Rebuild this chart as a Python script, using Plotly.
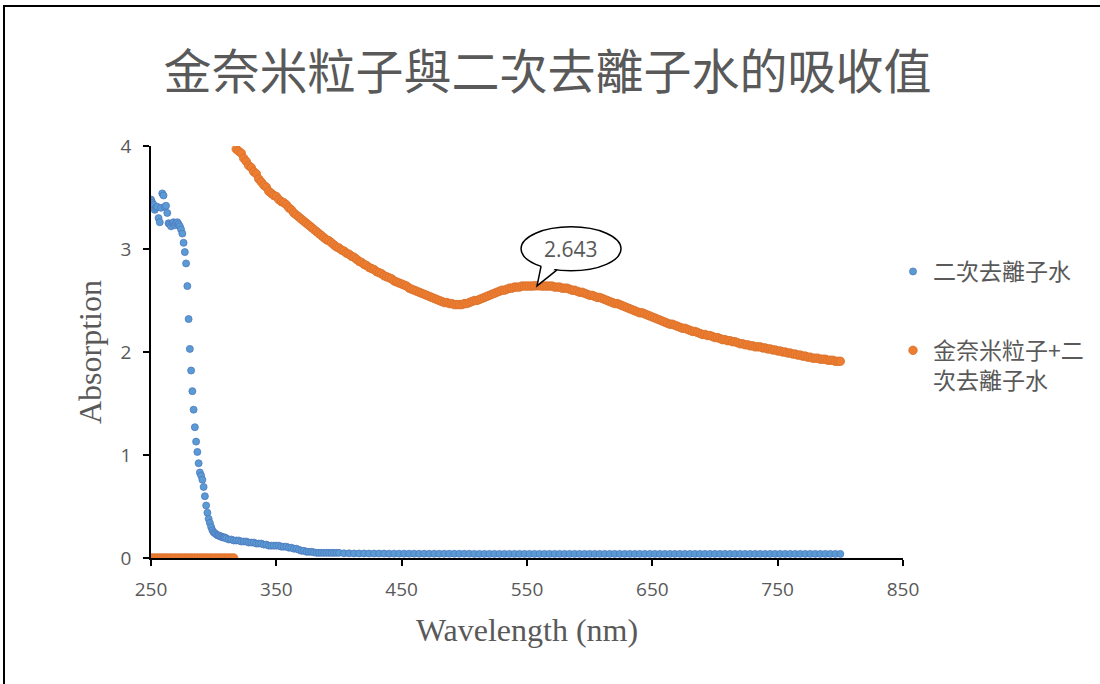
import plotly.graph_objects as go

# ---------------- data ----------------
title_text = "金奈米粒子與二次去離子水的吸收值"
series_names = ["二次去離子水", "金奈米粒子+二<br>次去離子水"]
x_title = "Wavelength (nm)"
y_title = "Absorption"
x_ticks = [250, 350, 450, 550, 650, 750, 850]
y_ticks = [0, 1, 2, 3, 4]

# 二次去離子水 (blue)
water_wl = list(range(250, 311, 1)) + list(range(312, 401, 2)) + list(range(404, 801, 4))
water_abs = [
    3.48, 3.45, 3.43, 3.38, 3.40, 3.41, 3.30, 3.26, 3.40, 3.54,
    3.52, 3.41, 3.42, 3.35, 3.25, 3.24, 3.22, 3.25, 3.26, 3.23,
    3.25, 3.26, 3.24, 3.22, 3.19, 3.15, 3.06, 2.97, 2.86,
    2.64, 2.32, 2.03, 1.82, 1.62, 1.44, 1.27, 1.13, 1.03, 0.92,
    0.83, 0.80, 0.76, 0.69, 0.60, 0.51, 0.44, 0.38, 0.34, 0.30,
    0.27, 0.25, 0.24, 0.23, 0.22, 0.22, 0.21, 0.21, 0.20, 0.20, 0.20, 0.19,
    # 312-400 step 2
    0.18, 0.18, 0.17, 0.17, 0.17, 0.16, 0.16, 0.16, 0.15, 0.15,
    0.15, 0.14, 0.14, 0.14, 0.13, 0.13, 0.12, 0.12, 0.12, 0.12,
    0.12, 0.11, 0.11, 0.11, 0.10, 0.10, 0.09, 0.09, 0.08, 0.07,
    0.07, 0.06, 0.06, 0.06, 0.055, 0.05, 0.05, 0.05, 0.05, 0.05,
    0.05, 0.05, 0.05, 0.05, 0.05,
    # 404-800 step 4
    0.045, 0.045, 0.044, 0.044, 0.044, 0.043, 0.043, 0.043, 0.043, 0.042,
    0.042, 0.042, 0.042, 0.042, 0.042, 0.041, 0.041, 0.041, 0.041, 0.041,
    0.041, 0.041, 0.041, 0.041, 0.041, 0.041, 0.040, 0.040, 0.040, 0.040,
    0.040, 0.040, 0.040, 0.040, 0.040, 0.040, 0.040, 0.040, 0.040, 0.040,
    0.040, 0.040, 0.040, 0.040, 0.040, 0.040, 0.040, 0.040, 0.040, 0.040,
    0.040, 0.040, 0.040, 0.040, 0.040, 0.040, 0.040, 0.040, 0.040, 0.040,
    0.040, 0.040, 0.040, 0.040, 0.040, 0.040, 0.040, 0.040, 0.040, 0.040,
    0.040, 0.040, 0.040, 0.040, 0.040, 0.040, 0.040, 0.040, 0.040, 0.040,
    0.040, 0.040, 0.040, 0.040, 0.040, 0.040, 0.040, 0.040, 0.040, 0.040,
    0.040, 0.040, 0.040, 0.040, 0.040, 0.040, 0.040, 0.040, 0.040, 0.040,
]

# 金奈米粒子+二次去離子水 (orange)
gold_wl = list(range(250, 801, 2))
gold_abs = [
    0, 0, 0, 0, 0, 0, 0, 0, 0, 0,
    0, 0, 0, 0, 0, 0, 0, 0, 0, 0,
    0, 0, 0, 0, 0, 0, 0, 0, 0, 0,
    0, 0, 0, 0,
    3.97, 3.95, 3.93, 3.88, 3.85, 3.81, 3.79, 3.75, 3.73, 3.68,
    3.65, 3.62, 3.60, 3.56, 3.54, 3.52, 3.51, 3.48, 3.46, 3.45,
    3.43, 3.40, 3.38, 3.35, 3.33, 3.31, 3.29, 3.27, 3.25, 3.23,
    3.21, 3.19, 3.17, 3.15, 3.13, 3.11, 3.09, 3.08, 3.06, 3.04,
    3.02, 3.01, 2.99, 2.98, 2.96, 2.95, 2.93, 2.92, 2.90, 2.88,
    2.87, 2.85, 2.84, 2.82, 2.81, 2.80, 2.78, 2.77, 2.76, 2.74,
    2.73, 2.72, 2.71, 2.69, 2.68, 2.67, 2.66, 2.65, 2.64, 2.62,
    2.61, 2.60, 2.59, 2.58, 2.57, 2.56, 2.55, 2.54, 2.53, 2.52,
    2.51, 2.50, 2.49, 2.48, 2.48, 2.47, 2.47, 2.46, 2.46, 2.46,
    2.46, 2.47, 2.47, 2.48, 2.49, 2.50, 2.50, 2.51, 2.52, 2.53,
    2.54, 2.55, 2.56, 2.57, 2.58, 2.59, 2.60, 2.60, 2.61, 2.62,
    2.62, 2.63, 2.63, 2.63, 2.64, 2.64, 2.64, 2.64, 2.64, 2.642,
    2.643, 2.643, 2.64, 2.64, 2.64, 2.64, 2.64, 2.63, 2.63, 2.63,
    2.62, 2.62, 2.62, 2.61, 2.60, 2.60, 2.59, 2.58, 2.58, 2.57,
    2.56, 2.55, 2.55, 2.54, 2.53, 2.53, 2.52, 2.51, 2.50, 2.49,
    2.48, 2.47, 2.47, 2.46, 2.45, 2.44, 2.43, 2.42, 2.41, 2.40,
    2.39, 2.38, 2.38, 2.37, 2.36, 2.35, 2.34, 2.33, 2.32, 2.31,
    2.30, 2.29, 2.28, 2.27, 2.27, 2.26, 2.25, 2.24, 2.23, 2.23,
    2.22, 2.21, 2.20, 2.20, 2.19, 2.18, 2.17, 2.17, 2.16, 2.16,
    2.15, 2.14, 2.14, 2.13, 2.12, 2.12, 2.11, 2.11, 2.10, 2.10,
    2.09, 2.08, 2.08, 2.07, 2.07, 2.06, 2.06, 2.05, 2.05, 2.05,
    2.04, 2.04, 2.03, 2.03, 2.02, 2.02, 2.01, 2.01, 2.00, 2.00,
    1.99, 1.99, 1.98, 1.98, 1.97, 1.97, 1.96, 1.96, 1.95, 1.95,
    1.94, 1.94, 1.94, 1.93, 1.93, 1.93, 1.92, 1.92, 1.92, 1.91,
    1.91, 1.91,
]
peak_range = (500, 650)  # window of the plasmon peak that is labelled

# ---------------- figure ----------------
W, H = 1100, 684
ML, MR, MT, MB = 151, 197, 146, 126
PW, PH = W - ML - MR, H - MT - MB

GRAY = "#595959"
CJK = "Noto Sans CJK TC"

fig = go.Figure()
fig.add_trace(go.Scatter(
    x=water_wl, y=water_abs, mode="markers", name=series_names[0],
    legendgroup="a",
    marker=dict(size=7, color="#5B9BD5", line=dict(color="#4E79BD", width=0.8)),
))
fig.add_trace(go.Scatter(
    x=gold_wl, y=gold_abs, mode="markers", name=series_names[1],
    legendgroup="b",
    marker=dict(size=8.5, color="#ED7D31", line=dict(color="#D9702A", width=0.8)),
))

# peak callout (anchored to the peak data point)
cand = [i for i in range(len(gold_wl)) if peak_range[0] <= gold_wl[i] <= peak_range[1]]
peak_i = max(cand, key=lambda i: gold_abs[i])
px_, py_ = gold_wl[peak_i], gold_abs[peak_i]

shapes = []
shapes.append(dict(type="circle", xref="x", yref="y", xsizemode="pixel", ysizemode="pixel",
                   xanchor=px_, yanchor=py_, x0=-16, x1=84, y0=15, y1=59,
                   line=dict(color="black", width=1.5), fillcolor="white", layer="above"))
shapes.append(dict(type="path", xref="x", yref="y", xsizemode="pixel", ysizemode="pixel",
                   xanchor=px_, yanchor=py_, path="M 4.8,21.5 L 0,0 L 19.5,18.5 Z",
                   line=dict(width=0), fillcolor="white", layer="above"))
shapes.append(dict(type="path", xref="x", yref="y", xsizemode="pixel", ysizemode="pixel",
                   xanchor=px_, yanchor=py_, path="M 4,19.4 L 0,0 L 20,15.9",
                   line=dict(color="black", width=1.5), fillcolor="rgba(0,0,0,0)", layer="above"))


def fx(p):
    return (p - ML) / PW


def fy(p):
    return (H - MB - p) / PH


# outer frame (top and left edges)
shapes.append(dict(type="line", xref="paper", yref="paper", x0=fx(3), x1=fx(1105),
                   y0=fy(6), y1=fy(6), line=dict(color="black", width=2)))
shapes.append(dict(type="line", xref="paper", yref="paper", x0=fx(4), x1=fx(4),
                   y0=fy(6), y1=fy(690), line=dict(color="black", width=2)))

annotations = [dict(x=px_, y=py_, xref="x", yref="y", text=f"{py_:.3f}", showarrow=False,
                    xshift=34, yshift=37, font=dict(family="Open Sans", size=21, color=GRAY))]

axis_common = dict(
    showline=True, linecolor="black", linewidth=1.5,
    ticks="outside", ticklen=6, tickwidth=1.5, tickcolor="black",
    showgrid=False, zeroline=False,
    tickfont=dict(family="Open Sans", size=19, color=GRAY),
)

fig.update_layout(
    width=W, height=H,
    margin=dict(l=ML, r=MR, t=MT, b=MB, autoexpand=False),
    paper_bgcolor="white", plot_bgcolor="white",
    title=dict(text=title_text, x=0.4977, xanchor="center", y=1 - 72 / H, yanchor="middle",
               font=dict(family=CJK, size=48, color=GRAY)),
    xaxis=dict(range=[250, 850], tickvals=x_ticks, ticktext=[str(v) for v in x_ticks],
               ticklabelstandoff=7,
               title=dict(text=x_title, standoff=18,
                          font=dict(family="Liberation Serif", size=32, color=GRAY)),
               **axis_common),
    yaxis=dict(range=[0, 4], tickvals=y_ticks, ticktext=[str(v) for v in y_ticks],
               ticklabelstandoff=8,
               title=dict(text=y_title, standoff=9,
                          font=dict(family="Liberation Serif", size=32, color=GRAY)),
               **axis_common),
    legend=dict(x=fx(893), y=fy(250), xanchor="left", yanchor="top",
                traceorder="grouped", tracegroupgap=46, valign="top",
                font=dict(family=CJK, size=23, color=GRAY),
                bgcolor="rgba(0,0,0,0)"),
    shapes=shapes,
    annotations=annotations,
    showlegend=True,
)

fig.write_html("out.html", config={"displayModeBar": False},
               post_script="document.body.style.margin='0';")
